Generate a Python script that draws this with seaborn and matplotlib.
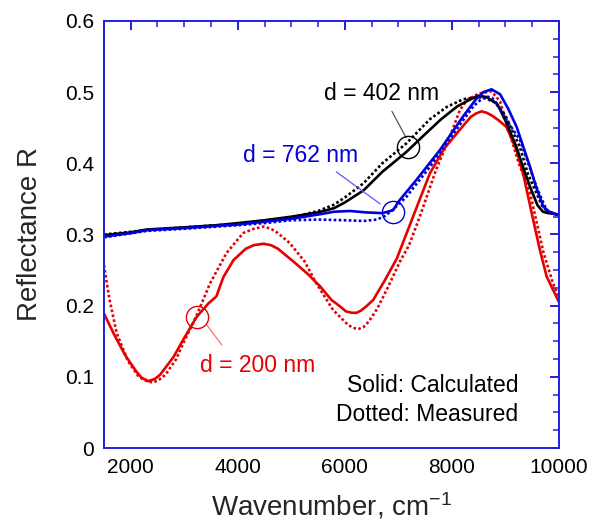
import matplotlib
matplotlib.use("Agg")
import matplotlib.pyplot as plt
from matplotlib.ticker import MultipleLocator
import pandas as pd
import seaborn as sns

# ---- spectra: wavenumber (cm^-1) and reflectance R ----
wn_402_calc = [1500, 2000, 2300, 3000, 3600, 4000, 4500, 5000, 5500, 5800, 6000, 6350, 6700,
               7150, 7500, 7800, 8100, 8350, 8500, 8650, 8850, 9000, 9200, 9350, 9460,
               9600, 9700, 9800, 10000]
r_402_calc = [0.299, 0.303, 0.307, 0.310, 0.313, 0.316, 0.320, 0.325, 0.331, 0.337, 0.345, 0.362, 0.388,
              0.416, 0.441, 0.462, 0.480, 0.490, 0.495, 0.493, 0.483, 0.460, 0.424, 0.390, 0.367,
              0.341, 0.332, 0.330, 0.328]

wn_402_meas = [1500, 2300, 3000, 4000, 5000, 5500, 5800, 6000, 6350, 6700, 7150, 7590, 7900,
               8210, 8450, 8600, 8800, 9000, 9270, 9420, 9580, 9700, 9850, 10000]
r_402_meas = [0.300, 0.306, 0.310, 0.315, 0.324, 0.333, 0.342, 0.352, 0.372, 0.400, 0.428, 0.462, 0.479,
              0.490, 0.493, 0.492, 0.486, 0.467, 0.423, 0.385, 0.358, 0.338, 0.330, 0.328]

wn_762_calc = [1500, 2000, 2300, 3000, 4000, 4500, 5000, 5500, 5800, 6100, 6400, 6700,
               6900, 7000, 7340, 7780, 8210, 8450, 8590, 8740, 8900, 9050, 9210, 9460,
               9580, 9710, 9850, 10000]
r_762_calc = [0.297, 0.302, 0.306, 0.309, 0.314, 0.318, 0.322, 0.328, 0.332, 0.333, 0.331, 0.330,
              0.334, 0.346, 0.377, 0.419, 0.466, 0.490, 0.500, 0.504, 0.497, 0.477, 0.451, 0.395,
              0.365, 0.339, 0.330, 0.327]

wn_762_meas = [1500, 2300, 3000, 4000, 4500, 5000, 5500, 6000, 6350, 6600, 6750, 6900,
               7150, 7590, 8030, 8400, 8550, 8650, 8750, 8840, 9000, 9270, 9450, 9580,
               9770, 10000]
r_762_meas = [0.296, 0.305, 0.308, 0.313, 0.316, 0.320, 0.321, 0.320, 0.319, 0.321, 0.326, 0.335,
              0.353, 0.395, 0.442, 0.480, 0.490, 0.494, 0.492, 0.484, 0.463, 0.433, 0.395, 0.367,
              0.334, 0.327]

wn_200_calc = [1500, 1700, 1900, 2100, 2200, 2330, 2450, 2550, 2800, 2980, 3230, 3450, 3600, 3730,
               3920, 4150, 4300, 4480, 4620, 4750, 5040, 5300, 5540, 5750, 5910, 6020, 6130, 6220,
               6300, 6400, 6530, 6750, 6970, 7300, 7590, 7850, 8090, 8350, 8450, 8555, 8650,
               8750, 8880, 9020, 9200, 9330, 9520, 9645, 9770, 10000]
r_200_calc = [0.189, 0.158, 0.130, 0.108, 0.099, 0.094, 0.097, 0.103, 0.128, 0.152, 0.184, 0.203, 0.213, 0.240,
              0.264, 0.280, 0.285, 0.287, 0.285, 0.280, 0.262, 0.245, 0.227, 0.208, 0.199, 0.192, 0.190, 0.190,
              0.193, 0.199, 0.208, 0.236, 0.266, 0.330, 0.386, 0.420, 0.442, 0.465, 0.470, 0.473, 0.471,
              0.467, 0.460, 0.451, 0.420, 0.386, 0.320, 0.278, 0.241, 0.205]

wn_200_meas = [1500, 1600, 1740, 1950, 2150, 2300, 2420, 2530, 2650, 2850, 2980, 3230, 3480, 3790,
               4100, 4300, 4480, 4620, 4750, 4970, 5250, 5470, 5780, 6060, 6150, 6250, 6350, 6450,
               6600, 6800, 7030, 7200, 7400, 7700, 8000, 8150, 8280, 8500, 8740, 8900, 9080, 9250,
               9460, 9710, 9890, 10000]
r_200_meas = [0.257, 0.210, 0.161, 0.122, 0.100, 0.094, 0.092, 0.096, 0.103, 0.125, 0.147, 0.186, 0.231, 0.274,
              0.302, 0.308, 0.311, 0.308, 0.302, 0.288, 0.262, 0.231, 0.194, 0.173, 0.169, 0.167, 0.170, 0.178,
              0.195, 0.225, 0.262, 0.285, 0.325, 0.390, 0.445, 0.475, 0.489, 0.498, 0.501, 0.487, 0.442, 0.400,
              0.358, 0.275, 0.231, 0.213]

RED = "#e60000"
BLUE = "#0000dc"
BLACK = "#000000"

series = [
    (wn_200_calc, r_200_calc, RED, "solid"),
    (wn_200_meas, r_200_meas, RED, "dotted"),
    (wn_402_calc, r_402_calc, BLACK, "solid"),
    (wn_402_meas, r_402_meas, BLACK, "dotted"),
    (wn_762_calc, r_762_calc, BLUE, "solid"),
    (wn_762_meas, r_762_meas, BLUE, "dotted"),
]

sns.set_theme(style="white")
plt.rcParams["font.family"] = ["Liberation Sans", "DejaVu Sans"]
plt.rcParams["mathtext.fontset"] = "custom"
plt.rcParams["mathtext.rm"] = "Liberation Sans"
plt.rcParams["mathtext.it"] = "Liberation Sans:italic"

fig = plt.figure(figsize=(5.94, 5.24), dpi=100)
ax = fig.add_axes([0.175, 0.145, 0.766, 0.815])

for wn, r, col, style in series:
    df = pd.DataFrame({"wn": wn, "R": r})
    ls = (0, (1.0, 0.9)) if style == "dotted" else "-"
    sns.lineplot(data=df, x="wn", y="R", ax=ax, color=col, linewidth=1.9,
                 linestyle=ls, sort=False, estimator=None)

ax.set_xlim(1500, 10000)
ax.set_ylim(0, 0.6)
ax.xaxis.set_major_locator(MultipleLocator(2000))
ax.xaxis.set_minor_locator(MultipleLocator(500))
ax.yaxis.set_major_locator(MultipleLocator(0.1))
ax.yaxis.set_minor_locator(MultipleLocator(0.025))
ax.set_yticks([0, 0.1, 0.2, 0.3, 0.4, 0.5, 0.6])
ax.set_yticklabels(["0", "0.1", "0.2", "0.3", "0.4", "0.5", "0.6"])

axis_col = "#2020e0"
for sp in ax.spines.values():
    sp.set_color(axis_col)
    sp.set_linewidth(1.4)
ax.tick_params(which="both", direction="in", top=True, right=True, colors=axis_col,
               labelcolor="black", labelsize=15)
ax.tick_params(which="major", length=6.5, width=1.4, pad=7)
ax.tick_params(which="minor", length=4, width=1.1)

ax.set_xlabel("Wavenumber, cm$^{-1}$", fontsize=20, labelpad=10)
ax.set_ylabel("Reflectance R", fontsize=20, labelpad=16)

# thickness labels with leader lines and circles on the curves
def tag(text, col, text_xy, line_from, line_to, circ_xy, lcol):
    ax.text(*text_xy, text, color=col, fontsize=16.5, ha="center", va="center")
    ax.plot([line_from[0], line_to[0]], [line_from[1], line_to[1]], color=lcol, lw=0.9)
    ax.plot([circ_xy[0]], [circ_xy[1]], marker="o", markersize=16, fillstyle="none",
            markeredgecolor=col, markeredgewidth=1.0, linestyle="none")

tag("d = 402 nm", BLACK, (6680, 0.498), (6880, 0.473), (7145, 0.436), (7175, 0.423), "#555555")
tag("d = 762 nm", BLUE, (5170, 0.411), (5840, 0.388), (6660, 0.343), (6900, 0.332), "#5a5aff")
tag("d = 200 nm", RED, (4380, 0.116), (3420, 0.173), (3700, 0.145), (3235, 0.184), "#ff7070")

ax.text(0.911, 0.147, "Solid: Calculated", transform=ax.transAxes, ha="right", va="center",
        fontsize=16.5, color="black")
ax.text(0.911, 0.079, "Dotted: Measured", transform=ax.transAxes, ha="right", va="center",
        fontsize=16.5, color="black")

fig.savefig("out.png", dpi=100, facecolor="white")
